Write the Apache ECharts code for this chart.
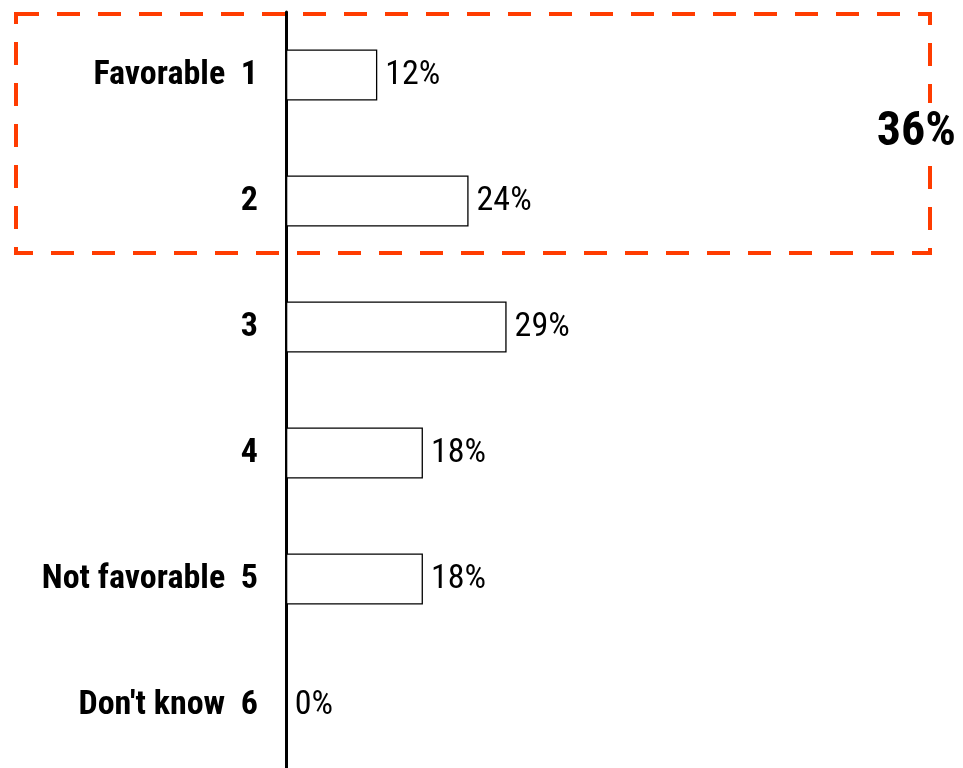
<!DOCTYPE html>
<html>
<head>
<meta charset="utf-8">
<script src="https://cdn.jsdelivr.net/npm/echarts@6/dist/echarts.min.js"></script>
<style>
html,body{margin:0;padding:0;background:#fff;}
#chart{width:963px;height:768px;}
</style>
</head>
<body>
<div id="chart"></div>
<script>
var categories = ['Favorable  1', '2', '3', '4', 'Not favorable  5', "Don't know  6"];
var values = [12, 24, 29, 18, 18, 0];
var totalLabel = '36%';

var FONT = '"Liberation Sans Narrow", "Arial Narrow", "Roboto Condensed", "Liberation Sans", sans-serif';

var chart = echarts.init(document.getElementById('chart'));
chart.setOption({
  backgroundColor: '#ffffff',
  animation: false,
  grid: { left: 286, top: 12, right: 0, bottom: -2, containLabel: false },
  xAxis: {
    type: 'value', min: 0, max: 89,
    show: false
  },
  yAxis: {
    type: 'category',
    data: categories,
    inverse: true,
    axisLine: { show: true, onZero: false, lineStyle: { color: '#000', width: 3 } },
    axisTick: { show: false },
    splitLine: { show: false },
    axisLabel: {
      margin: 28,
      color: '#000',
      fontFamily: FONT,
      fontWeight: 'bold',
      fontSize: 34,
      padding: [6, 0, 0, 0]
    }
  },
  series: [{
    type: 'bar',
    data: values,
    barWidth: 51,
    itemStyle: { color: '#ffffff', borderColor: '#000', borderWidth: 1.3 },
    label: {
      show: true,
      position: 'right',
      distance: 8,
      formatter: '{c}%',
      color: '#000',
      fontFamily: FONT,
      fontSize: 34,
      padding: [4, 0, 0, 0]
    }
  }],
  graphic: [
    {
      type: 'rect',
      shape: { x: 16, y: 14, width: 914, height: 239 },
      style: { fill: 'none', stroke: '#ff3c00', lineWidth: 4, lineDash: [23, 18] },
      z: 10
    },
    {
      type: 'text',
      right: 3,
      top: 103,
      style: {
        text: totalLabel,
        fill: '#000',
        font: 'bold 48px ' + FONT,
        backgroundColor: '#fff',
        padding: [6, 4, 6, 4]
      },
      z: 20
    }
  ]
});
</script>
</body>
</html>
